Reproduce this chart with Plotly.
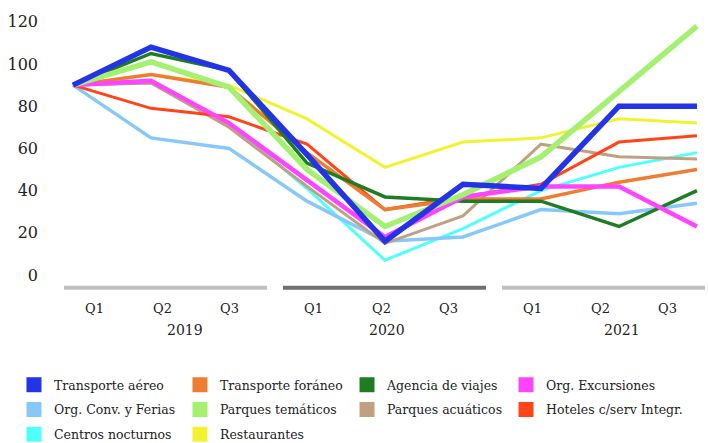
import plotly.graph_objects as go

# Quarterly index by tourism activity (2019 Q1 = 90)
years = ["2019", "2020", "2021"]
quarters = ["Q1", "Q2", "Q3"]

transporte_aereo = [90, 108, 97, 57, 16, 43, 41, 80, 80]
transporte_foraneo = [90, 95, 89, 58, 31, 36, 36, 44, 50]
agencia_viajes = [90, 105, 97, 53, 37, 35, 35, 23, 40]
org_excursiones = [90, 92, 72, 45, 18, 37, 42, 42, 23]
org_conv_ferias = [90, 65, 60, 35, 16, 18, 31, 29, 34]
parques_tematicos = [90, 101, 89, 50, 23, 38, 56, 87, 118]
parques_acuaticos = [90, 91, 70, 42, 15, 28, 62, 56, 55]
hoteles_serv = [90, 79, 75, 62, 31, 37, 43, 63, 66]
centros_nocturnos = [90, 91, 72, 41, 7, 22, 40, 51, 58]
restaurantes = [90, 95, 90, 74, 51, 63, 65, 74, 72]

series = {
    "Transporte aéreo": transporte_aereo,
    "Transporte foráneo": transporte_foraneo,
    "Agencia de viajes": agencia_viajes,
    "Org. Excursiones": org_excursiones,
    "Org. Conv. y Ferias": org_conv_ferias,
    "Parques temáticos": parques_tematicos,
    "Parques acuáticos": parques_acuaticos,
    "Hoteles c/serv Integr.": hoteles_serv,
    "Centros nocturnos": centros_nocturnos,
    "Restaurantes": restaurantes,
}

colors = {
    "Transporte aéreo": "#2234e6",
    "Transporte foráneo": "#ed7d31",
    "Agencia de viajes": "#1e7d22",
    "Org. Excursiones": "#ff44ff",
    "Org. Conv. y Ferias": "#88c8f8",
    "Parques temáticos": "#a4f070",
    "Parques acuáticos": "#c0a080",
    "Hoteles c/serv Integr.": "#ff4418",
    "Centros nocturnos": "#4dffff",
    "Restaurantes": "#f2f230",
}

widths = {
    "Transporte aéreo": 5.5,
    "Transporte foráneo": 3.5,
    "Agencia de viajes": 3.5,
    "Org. Excursiones": 4.5,
    "Org. Conv. y Ferias": 3.5,
    "Parques temáticos": 5.5,
    "Parques acuáticos": 3,
    "Hoteles c/serv Integr.": 3,
    "Centros nocturnos": 3,
    "Restaurantes": 3,
}

# thin lines underneath, heavy ones on top
draw_order = [
    "Restaurantes", "Centros nocturnos", "Org. Conv. y Ferias",
    "Parques acuáticos", "Hoteles c/serv Integr.", "Transporte foráneo",
    "Agencia de viajes", "Org. Excursiones", "Parques temáticos",
    "Transporte aéreo",
]

FONT = "DejaVu Serif"
TEXT = "#222222"

fig = go.Figure()
n_periods = len(years) * len(quarters)
x_idx = list(range(n_periods))

for name in draw_order:
    fig.add_trace(go.Scatter(
        x=x_idx, y=series[name], mode="lines", name=name,
        line=dict(color=colors[name], width=widths[name]),
        showlegend=False, hoverinfo="skip",
    ))

# legend: four columns, each its own vertical legend; entries fill rows left to right
n_cols = 4
legend_ids = ["legend", "legend2", "legend3", "legend4"]
for i, name in enumerate(series):
    fig.add_trace(go.Scatter(
        x=[None], y=[None], mode="markers", name=name,
        marker=dict(symbol="square", size=15, color=colors[name]),
        legend=legend_ids[i % n_cols], legendgroup=name, showlegend=True,
    ))

legend_cols_x = [-0.047, 0.2045, 0.4576, 0.6985]
legends = {}
for lid, lx in zip(legend_ids, legend_cols_x):
    legends[lid] = dict(
        orientation="v", xanchor="left", yanchor="top", x=lx, y=-0.277,
        tracegroupgap=5.5,
        font=dict(family=FONT, size=12.5, color=TEXT),
        bgcolor="rgba(0,0,0,0)", itemclick=False, itemdoubleclick=False,
    )

# year group bars and quarter / year labels on a group-scaled axis
bar_colors = ["#c0c0c0", "#707070", "#c0c0c0"]
year_offsets = [0.553, 0.475, 0.548]
bar_len = 0.927
shapes = []
annotations = []
for g, yr in enumerate(years):
    shapes.append(dict(
        type="line", xref="x2", yref="y", x0=g, x1=g + bar_len, y0=-6.0, y1=-6.0,
        line=dict(color=bar_colors[g], width=4),
    ))
    for k, q in enumerate(quarters):
        annotations.append(dict(
            xref="x2", yref="paper", x=g + bar_len * (k + 0.5) / 3 - 0.015,
            y=-0.058, text=q, showarrow=False, xanchor="center", yanchor="middle",
            font=dict(family=FONT, size=13, color=TEXT),
        ))
    annotations.append(dict(
        xref="x2", yref="paper", x=g + year_offsets[g], y=-0.133, text=yr,
        showarrow=False, xanchor="center", yanchor="middle",
        font=dict(family=FONT, size=14, color=TEXT),
    ))

fig.update_layout(
    width=708, height=443,
    margin=dict(l=45, r=3, t=10, b=151, autoexpand=False),
    paper_bgcolor="white", plot_bgcolor="white",
    font=dict(family=FONT, color=TEXT),
    xaxis=dict(range=[-0.359, 8.103], visible=False),
    xaxis2=dict(range=[-0.0868, 2.927], overlaying="x", visible=False),
    yaxis=dict(
        range=[-8.06, 125.6], tickvals=[0, 20, 40, 60, 80, 100, 120],
        showgrid=False, zeroline=False, showline=False, ticks="",
        tickfont=dict(family=FONT, size=16, color=TEXT),
        ticklabelstandoff=6,
    ),
    shapes=shapes,
    annotations=annotations,
    showlegend=True,
    **legends,
)

fig.write_html("out.html")
